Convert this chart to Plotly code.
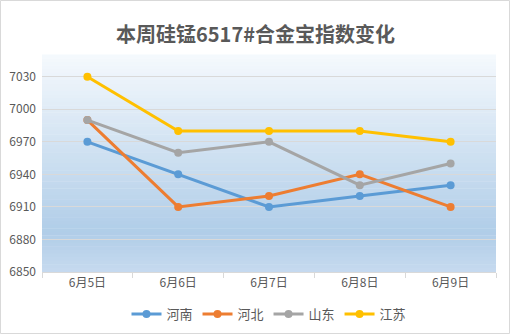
import plotly.graph_objects as go

categories = ["6月5日", "6月6日", "6月7日", "6月8日", "6月9日"]
henan = [6970, 6940, 6910, 6920, 6930]
hebei = [6990, 6910, 6920, 6940, 6910]
shandong = [6990, 6960, 6970, 6930, 6950]
jiangsu = [7030, 6980, 6980, 6980, 6970]
series_names = ["河南", "河北", "山东", "江苏"]
series_values = [henan, hebei, shandong, jiangsu]
colors = ["#5B9BD5", "#ED7D31", "#A5A5A5", "#FFC000"]
y_ticks = [6850, 6880, 6910, 6940, 6970, 7000, 7030]

W, H = 511, 335
ML, MR, MT, MB = 42, 15, 55, 63

fig = go.Figure()
for name, vals, c in zip(series_names, series_values, colors):
    fig.add_trace(go.Scatter(
        x=categories, y=vals, name=name, mode="lines+markers",
        line=dict(color=c, width=3), marker=dict(color=c, size=8),
    ))

# gradient background for plot area
def lerp(a, b, t):
    return tuple(int(round(a[i] + (b[i] - a[i]) * t)) for i in range(3))

top = (245, 249, 253)
mid = (176, 205, 232)
bot = (198, 218, 239)
N = 60
shapes = []
for i in range(N):
    f0 = i / N
    f1 = (i + 1) / N
    fc = (f0 + f1) / 2  # fraction from top
    if fc < 0.82:
        col = lerp(top, mid, fc / 0.82)
    else:
        col = lerp(mid, bot, (fc - 0.82) / 0.18)
    shapes.append(dict(
        type="rect", xref="x domain", yref="y domain",
        x0=0, x1=1, y0=1 - f1, y1=1 - f0 + 0.002,
        fillcolor="rgb(%d,%d,%d)" % col, line=dict(width=0), layer="below",
    ))

pw = W - ML - MR
ph = H - MT - MB
shapes.append(dict(
    type="rect", xref="paper", yref="paper",
    x0=-(ML - 0.5) / pw, x1=1 + (MR - 1.5) / pw,
    y0=-(MB - 1.5) / ph, y1=1 + (MT - 0.5) / ph,
    line=dict(color="#D9D9D9", width=1), fillcolor="rgba(0,0,0,0)", layer="above",
))

fig.update_layout(
    width=W, height=H,
    margin=dict(l=ML, r=MR, t=MT, b=MB, autoexpand=False),
    paper_bgcolor="white", plot_bgcolor="rgba(0,0,0,0)",
    title=dict(text="<b>本周硅锰6517#合金宝指数变化</b>", x=0.5, xanchor="center",
               y=1 - 35 / H, yanchor="middle",
               font=dict(family="Noto Sans CJK SC", size=20, color="#595959")),
    font=dict(family="Noto Sans CJK SC", size=12, color="#595959"),
    shapes=shapes,
    showlegend=True,
    legend=dict(orientation="h", x=0.5, xanchor="center", y=-(314 - (H - MB)) / ph,
                yanchor="middle", font=dict(size=13, color="#595959"),
                bgcolor="rgba(0,0,0,0)", itemwidth=30, tracegroupgap=0),
    xaxis=dict(type="category", showgrid=False, showline=True, linecolor="#D9D9D9",
               linewidth=1, ticks="outside", tickson="boundaries", ticklen=5,
               tickcolor="#D9D9D9", tickfont=dict(size=12, color="#595959"),
               range=[-0.5, 4.5], zeroline=False),
    yaxis=dict(range=[6850, 7050], tickvals=y_ticks, showgrid=True,
               gridcolor="#D9D9D9", gridwidth=1, zeroline=False, showline=False,
               ticks="", tickfont=dict(size=12, color="#595959"), ticklabelstandoff=5),
)

fig.write_html("out.html")
